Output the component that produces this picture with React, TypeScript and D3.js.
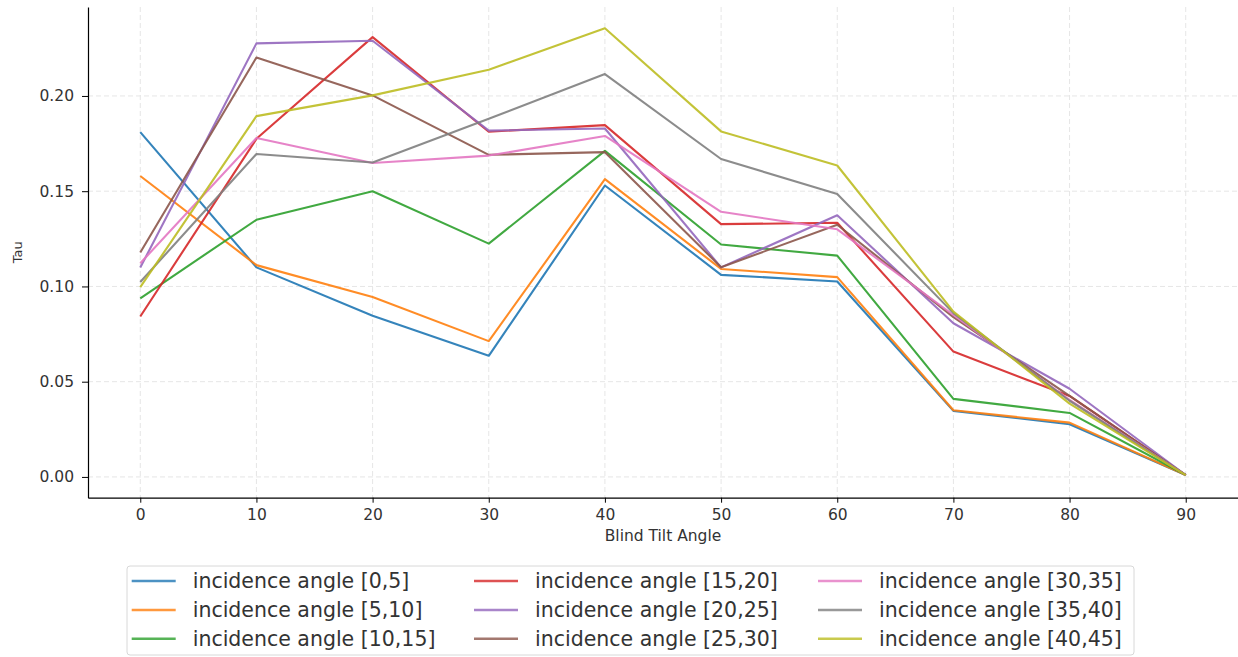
import React, { useEffect, useRef } from "react";
import * as d3 from "d3";

const tiltAngles = [0, 10, 20, 30, 40, 50, 60, 70, 80, 90];

const seriesNames = [
  "incidence angle [0,5]",
  "incidence angle [5,10]",
  "incidence angle [10,15]",
  "incidence angle [15,20]",
  "incidence angle [20,25]",
  "incidence angle [25,30]",
  "incidence angle [30,35]",
  "incidence angle [35,40]",
  "incidence angle [40,45]",
];

const tau0_5 = [0.181, 0.11, 0.0846, 0.0636, 0.153, 0.1061, 0.1026, 0.0347, 0.0277, 0.001];
const tau5_10 = [0.158, 0.1112, 0.0945, 0.0713, 0.1563, 0.1092, 0.1049, 0.035, 0.0285, 0.001];
const tau10_15 = [0.0938, 0.135, 0.15, 0.1225, 0.1712, 0.122, 0.1162, 0.041, 0.0336, 0.001];
const tau15_20 = [0.0842, 0.1775, 0.2309, 0.1812, 0.1847, 0.1327, 0.1334, 0.0658, 0.0425, 0.001];
const tau20_25 = [0.1099, 0.2276, 0.229, 0.1818, 0.1829, 0.11, 0.1374, 0.0807, 0.0463, 0.001];
const tau25_30 = [0.1178, 0.2202, 0.2003, 0.1691, 0.1705, 0.1101, 0.1324, 0.0839, 0.0425, 0.001];
const tau30_35 = [0.1122, 0.1779, 0.1648, 0.1687, 0.179, 0.1392, 0.13, 0.085, 0.0405, 0.001];
const tau35_40 = [0.1023, 0.1695, 0.1651, 0.188, 0.2115, 0.1669, 0.1485, 0.086, 0.04, 0.001];
const tau40_45 = [0.0996, 0.1894, 0.2003, 0.2138, 0.2355, 0.1814, 0.1635, 0.0868, 0.0385, 0.001];

const allSeries = [tau0_5, tau5_10, tau10_15, tau15_20, tau20_25, tau25_30, tau30_35, tau35_40, tau40_45];

const colors = [
  "#1f77b4", "#ff7f0e", "#2ca02c", "#d62728", "#9467bd",
  "#8c564b", "#e377c2", "#7f7f7f", "#bcbd22",
];

const yTicks = [0, 0.05, 0.1, 0.15, 0.2];

const TauChart: React.FC = () => {
  const svgRef = useRef<SVGSVGElement | null>(null);

  useEffect(() => {
    const width = 1238;
    const height = 657;
    const font = "'DejaVu Sans', sans-serif";

    d3.select(svgRef.current).selectAll("*").remove();
    const svg = d3.select(svgRef.current).attr("width", width).attr("height", height);

    const x = d3.scaleLinear().domain([-4.5, 94.5]).range([88, 1238]);
    const y = d3.scaleLinear().domain([-0.0109, 0.2467]).range([497.7, 7]);

    const [x0, x1] = x.range();
    const [yb, yt] = y.range();

    // grid
    const grid = svg.append("g");
    grid
      .selectAll("line.v")
      .data(tiltAngles)
      .join("line")
      .attr("x1", (d) => x(d))
      .attr("x2", (d) => x(d))
      .attr("y1", yt)
      .attr("y2", yb)
      .attr("stroke", "#e6e6e6")
      .attr("stroke-dasharray", "5,3")
      .attr("stroke-width", 1);
    grid
      .selectAll("line.h")
      .data(yTicks)
      .join("line")
      .attr("x1", x0)
      .attr("x2", x1)
      .attr("y1", (d) => y(d))
      .attr("y2", (d) => y(d))
      .attr("stroke", "#e6e6e6")
      .attr("stroke-dasharray", "5,3")
      .attr("stroke-width", 1);

    // lines
    const line = d3
      .line<number>()
      .x((_, i) => x(tiltAngles[i]))
      .y((d) => y(d));

    allSeries.forEach((s, i) => {
      svg
        .append("path")
        .attr("d", line(s))
        .attr("fill", "none")
        .attr("stroke", colors[i])
        .attr("stroke-opacity", 0.9)
        .attr("stroke-width", 2.1)
        .attr("stroke-linejoin", "round");
    });

    // axes
    const xAxis = svg
      .append("g")
      .attr("transform", `translate(0,${yb})`)
      .call(
        d3.axisBottom(x).tickValues(tiltAngles).tickSizeInner(5).tickSizeOuter(0).tickPadding(6).tickFormat(d3.format("d"))
      );
    xAxis.select(".domain").attr("stroke", "#000").attr("stroke-width", 1.2);
    xAxis
      .selectAll("text")
      .attr("font-family", font)
      .attr("font-size", 15.5)
      .attr("fill", "#333");

    const yAxis = svg
      .append("g")
      .attr("transform", `translate(${x0},0)`)
      .call(
        d3.axisLeft(y).tickValues(yTicks).tickSizeInner(6).tickSizeOuter(0).tickPadding(8).tickFormat(d3.format(".2f"))
      );
    yAxis.select(".domain").attr("stroke", "#000").attr("stroke-width", 1.2);
    yAxis
      .selectAll("text")
      .attr("font-family", font)
      .attr("font-size", 15.5)
      .attr("fill", "#333");

    svg
      .append("text")
      .attr("x", (x0 + x1) / 2)
      .attr("y", 541)
      .attr("text-anchor", "middle")
      .attr("font-family", font)
      .attr("font-size", 15.5)
      .attr("fill", "#333")
      .text("Blind Tilt Angle");

    svg
      .append("text")
      .attr("transform", `translate(22,${(yt + yb) / 2}) rotate(-90)`)
      .attr("text-anchor", "middle")
      .attr("font-family", font)
      .attr("font-size", 13)
      .attr("fill", "#333")
      .text("Tau");

    // legend
    const legend = svg.append("g");
    legend
      .append("rect")
      .attr("x", 127)
      .attr("y", 566)
      .attr("width", 1007)
      .attr("height", 89)
      .attr("rx", 3)
      .attr("fill", "#fff")
      .attr("fill-opacity", 0.8)
      .attr("stroke", "#d8d8d8");

    const colX = [131.7, 474, 818];
    const rowY = [581, 610, 638.7];
    seriesNames.forEach((name, i) => {
      const c = Math.floor(i / 3);
      const r = i % 3;
      legend
        .append("line")
        .attr("x1", colX[c])
        .attr("x2", colX[c] + 44)
        .attr("y1", rowY[r])
        .attr("y2", rowY[r])
        .attr("stroke", colors[i])
        .attr("stroke-opacity", 0.8)
        .attr("stroke-width", 2.5);
      legend
        .append("text")
        .attr("x", colX[c] + 61)
        .attr("y", rowY[r])
        .attr("dy", "0.35em")
        .attr("font-family", font)
        .attr("font-size", 20.5)
        .attr("fill", "#333")
        .text(name);
    });
  }, []);

  return <svg ref={svgRef} style={{ position: "absolute", left: 0, top: 0 }}></svg>;
};

export default function App() {
  return <TauChart />;
}
